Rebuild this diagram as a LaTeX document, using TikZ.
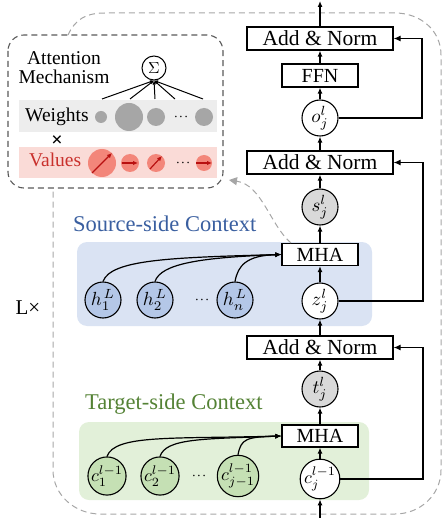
\documentclass[tikz,border=0pt]{standalone}
\usepackage{graphicx}
\usepackage{fontspec}
\setmainfont{Liberation Serif}
\usetikzlibrary{arrows.meta}
\definecolor{hblue}{HTML}{B4C7E7}
\definecolor{bluebg}{HTML}{DAE3F3}
\definecolor{cgreen}{HTML}{C5E0B4}
\definecolor{greenbg}{HTML}{E2F0D9}
\definecolor{srctxt}{HTML}{3A5FA0}
\definecolor{tgttxt}{HTML}{548235}
\definecolor{stgray}{HTML}{D9D9D9}
\definecolor{wcirc}{HTML}{A6A6A6}
\definecolor{wband}{HTML}{EDEDED}
\definecolor{vband}{HTML}{FADBD7}
\definecolor{vcirc}{HTML}{F3867A}
\definecolor{vtxt}{HTML}{C9302C}
\definecolor{varr}{HTML}{B81010}
\definecolor{dashgray}{HTML}{A6A6A6}
\definecolor{attgray}{HTML}{595959}
\newcommand{\vecmath}[1]{\scalebox{1.9}{$#1$}}
\newcommand{\ctxmath}[1]{\scalebox{1.8}{$#1$}}
\begin{document}
\begin{tikzpicture}[x=1pt,y=-1pt,
  box/.style={draw, line width=1.2pt, inner sep=0pt, minimum height=23pt, fill=white},
  addnorm/.style={box, minimum width=146pt, font=\fontsize{21.5}{23}\selectfont},
  mha/.style={box, minimum width=76pt, minimum height=22pt, font=\fontsize{20}{22}\selectfont},
  vec/.style={draw, circle, line width=1.1pt, minimum size=36pt, inner sep=0pt},
  arr/.style={line width=1.2pt, -{Latex[length=6pt,width=5pt]}},
  res/.style={line width=1.2pt, -{Latex[length=7pt,width=6pt]}},
  ctx/.style={anchor=base west, inner sep=0pt, font=\fontsize{22.5}{24}\selectfont},
  att/.style={font=\fontsize{19.5}{21}\selectfont},
  dots/.style={font=\boldmath}
]
\useasboundingbox (0,0) rectangle (442,518);

% backgrounds
\fill[bluebg, rounded corners=10pt] (77,242) rectangle (372,326);
\fill[greenbg, rounded corners=10pt] (79,422) rectangle (369,500);

% big dashed loop
\draw[dashgray, line width=1pt, dash pattern=on 6pt off 4pt]
  (68,35) .. controls (75,20) and (85,13) .. (105,13) -- (395,13)
  .. controls (420,13) and (441,30) .. (441,55) -- (441,470)
  .. controls (441,495) and (420,514) .. (395,514) -- (100,514)
  .. controls (75,514) and (53,495) .. (53,470) -- (53,190);

% attention mechanism box
\draw[attgray, line width=1.1pt, dash pattern=on 6pt off 4pt, rounded corners=16pt] (8,35) rectangle (223,188);
\fill[wband] (19,100) rectangle (217,132);
\fill[vband] (19,147) rectangle (217,178);
\node[att, align=center, inner sep=0pt] (atttitle) at (64,68) {Attention\\[-2pt]Mechanism};
\node[draw, circle, line width=1pt, minimum size=24pt, inner sep=0pt] (sig) at (154,68) {\scalebox{1.6}{$\Sigma$}};
\node[att, anchor=base west, inner sep=0pt] (wlab) at (25,122) {Weights};
\node[att, anchor=base west, inner sep=0pt, text=vtxt] (vlab) at (29,167) {Values};
\node[font=\fontsize{20}{20}\selectfont\bfseries] (times) at (57,141) {×};

\node[circle, fill=wcirc, minimum size=12pt, inner sep=0pt] (w1) at (101,117) {};
\node[circle, fill=wcirc, minimum size=28pt, inner sep=0pt] (w2) at (129,117) {};
\node[circle, fill=wcirc, minimum size=18pt, inner sep=0pt] (w3) at (156,117) {};
\node[dots] (wd) at (181,117) {$\cdots$};
\node[circle, fill=wcirc, minimum size=18pt, inner sep=0pt] (w4) at (204,117) {};

\coordinate (l1) at (102,99);
\coordinate (l2) at (130,99);
\coordinate (l3) at (155,99);
\coordinate (l4) at (175,99);
\coordinate (l5) at (203,99);
\foreach \p in {l1,l2,l3,l4,l5}
  \draw[line width=1pt, -{Latex[length=4pt,width=3.5pt]}] (\p) -- (sig.south);

\node[circle, fill=vcirc, minimum size=28pt, inner sep=0pt] (v1) at (102,163) {};
\node[circle, fill=vcirc, minimum size=18pt, inner sep=0pt] (v2) at (130,163) {};
\node[circle, fill=vcirc, minimum size=18pt, inner sep=0pt] (v3) at (156,163) {};
\node[dots] (vd) at (183,163) {$\cdots$};
\node[circle, fill=vcirc, minimum size=16pt, inner sep=0pt] (v4) at (204,163) {};
\draw[varr, line width=1.2pt, -{Latex[length=5pt,width=4.5pt]}] ([shift={(-10,10)}]v1.center) -- ([shift={(10,-10)}]v1.center);
\draw[varr, line width=1.2pt, -{Latex[length=5pt,width=4.5pt]}] ([shift={(-8,0)}]v2.center) -- ([shift={(8,0)}]v2.center);
\draw[varr, line width=1.2pt, -{Latex[length=5pt,width=4.5pt]}] ([shift={(-6,6)}]v3.center) -- ([shift={(6,-7)}]v3.center);
\draw[varr, line width=1.2pt, -{Latex[length=5pt,width=4.5pt]}] ([shift={(-8,0)}]v4.center) -- ([shift={(8,0)}]v4.center);

% main column
\node[addnorm] (an1) at (320,38.5) {Add \& Norm};
\node[box, minimum width=76pt, font=\fontsize{20}{22}\selectfont] (ffn) at (320,75.5) {FFN};
\node[vec] (o) at (320,118) {\vecmath{o_j^l}};
\node[addnorm] (an2) at (320,162.5) {Add \& Norm};
\node[vec, fill=stgray] (s) at (320,207) {\vecmath{s_j^l}};
\node[mha] (mha1) at (320,254.5) {MHA};
\node[vec, fill=white] (z) at (320,301) {\vecmath{z_j^l}};
\node[addnorm] (an3) at (320,347.5) {Add \& Norm};
\node[vec, fill=stgray] (t) at (320,389) {\vecmath{t_j^l}};
\node[mha] (mha2) at (320,436) {MHA};
\node[vec, fill=white] (cj) at (320,479) {\ctxmath{c_j^{l-1}}};

\coordinate (top) at (320,1);
\coordinate (bot) at (320,518);
\draw[arr] (bot) -- (cj);
\draw[arr] (cj) -- (mha2);
\draw[arr] (mha2) -- (t);
\draw[arr] (t) -- (an3);
\draw[arr] (an3) -- (z);
\draw[arr] (z) -- (mha1);
\draw[arr] (mha1) -- (s);
\draw[arr] (s) -- (an2);
\draw[arr] (an2) -- (o);
\draw[arr] (o) -- (ffn);
\draw[arr] (ffn) -- (an1);
\draw[arr] (an1) -- (top);

% residuals
\draw[res] (o.east) -- (422,118) |- (an1.east);
\draw[res] (z.east) -- (423,301) |- (an2.east);
\draw[res] (cj.east) -- (423,479) |- (an3.east);

% source context
\node[ctx, text=srctxt] (srclab) at (73,232) {Source-side Context};
\node[vec, fill=hblue] (h1) at (103,300) {\vecmath{h_1^{\mkern2mu L}}};
\node[vec, fill=hblue] (h2) at (155,300) {\vecmath{h_2^{\mkern2mu L}}};
\node[dots] (hd) at (202,300) {$\cdots$};
\node[vec, fill=hblue] (hn) at (235,300) {\vecmath{h_n^{\mkern2mu L}}};
\draw[arr] (h1.north) .. controls +(8,-22) and +(-110,3) .. (mha1.west);
\draw[arr] (h2.north) .. controls +(6,-18) and +(-80,3) .. (mha1.west);
\draw[arr] (hn.north) .. controls +(3,-16) and +(-35,1) .. (mha1.west);

% target context
\node[ctx, text=tgttxt] (tgtlab) at (85,409) {Target-side Context};
\node[vec, fill=cgreen] (c1) at (107,476) {\ctxmath{c_1^{l-1}}};
\node[vec, fill=cgreen] (c2) at (160,476) {\ctxmath{c_2^{l-1}}};
\node[dots] (cd) at (199,476) {$\cdots$};
\node[vec, fill=cgreen] (cjm) at (238,476) {\ctxmath{c_{j-1}^{l-1}}};
\draw[arr] (c1.north) .. controls +(8,-22) and +(-110,3) .. (mha2.west);
\draw[arr] (c2.north) .. controls +(6,-18) and +(-80,3) .. (mha2.west);
\draw[arr] (cjm.north) .. controls +(3,-16) and +(-35,1) .. (mha2.west);

% dashed arrow to attention box
\draw[dashgray, line width=1pt, dash pattern=on 6pt off 4pt, -{Triangle[length=8pt,width=8pt]}]
  (291,243) .. controls (270,225) and (262,185) .. (229,180);

% L x
\node[font=\fontsize{21}{23}\selectfont] (lx) at (28,308) {L×};
\end{tikzpicture}
\end{document}
